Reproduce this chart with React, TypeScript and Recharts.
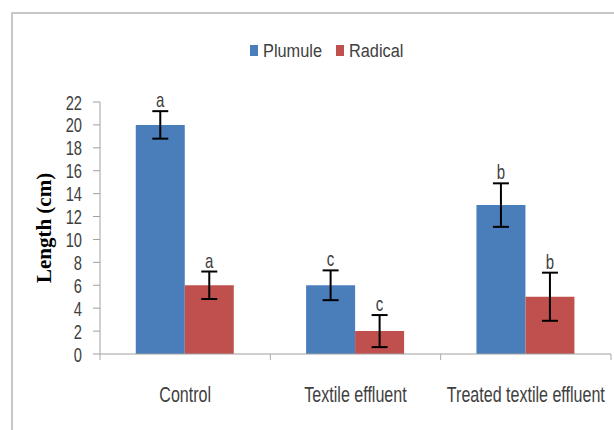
import React from 'react';
import { BarChart, Bar, XAxis, YAxis, Legend, ErrorBar, LabelList } from 'recharts';

const categories = ['Control', 'Textile effluent', 'Treated textile effluent'];
const plumule = [20, 6, 13];
const plumuleErr = [1.2, 1.3, 1.9];
const plumuleLetters = ['a', 'c', 'b'];
const radical = [6, 2, 5];
const radicalErr = [1.2, 1.4, 2.1];
const radicalLetters = ['a', 'c', 'b'];
const yTicks = [0, 2, 4, 6, 8, 10, 12, 14, 16, 18, 20, 22];

const data = categories.map((name, i) => ({
  name,
  plumule: plumule[i],
  plumuleErr: plumuleErr[i],
  plumuleLetter: plumuleLetters[i],
  radical: radical[i],
  radicalErr: radicalErr[i],
  radicalLetter: radicalLetters[i],
}));

const W = 614;
const H = 430;
const margin = { top: 78, right: 3, left: 0, bottom: 0 };
const yAxisWidth = 100;
const bandWidth = (W - margin.left - margin.right - yAxisWidth) / categories.length;
const sans = "'Liberation Sans', Arial, sans-serif";
const textColor = '#404040';

// the reference uses a narrow font, so squeeze Liberation Sans horizontally
const Narrow = ({ x, y, sx, size, anchor, children }: any) => (
  <text
    transform={`translate(${x},${y}) scale(${sx},1)`}
    textAnchor={anchor}
    fontSize={size}
    fill={textColor}
    fontFamily={sans}
  >
    {children}
  </text>
);

const letterLabel = (values: number[], errs: number[]) => (props: any) => {
  const { x, y, width, height, value, index } = props;
  const perUnit = height / values[index];
  const top = y - errs[index] * perUnit;
  return (
    <Narrow x={x + width / 2} y={top - 4} sx={0.75} size={20} anchor="middle">
      {value}
    </Narrow>
  );
};

const XTick = (props: any) => {
  const { x, y, payload, index } = props;
  return (
    <g>
      <line x1={x - bandWidth / 2} x2={x - bandWidth / 2} y1={y} y2={y + 6} stroke="#aaa" />
      {index === categories.length - 1 && (
        <line x1={x + bandWidth / 2} x2={x + bandWidth / 2} y1={y} y2={y + 6} stroke="#aaa" />
      )}
      <Narrow x={x} y={y + 48} sx={0.73} size={22} anchor="middle">
        {payload.value}
      </Narrow>
    </g>
  );
};

const YTick = (props: any) => {
  const { x, y, payload } = props;
  return (
    <Narrow x={x} y={y + 7.5} sx={0.7} size={21} anchor="end">
      {payload.value}
    </Narrow>
  );
};

const legendOffsets = [0, 86];

const LegendContent = (props: any) => {
  const { payload } = props;
  return (
    <svg width={160} height={24} style={{ display: 'block' }}>
      {payload.map((p: any, i: number) => (
        <g key={p.value} transform={`translate(${legendOffsets[i]},0)`}>
          <rect x={0} y={6} width={8} height={11} fill={p.color} />
          <Narrow x={13} y={18} sx={0.86} size={19} anchor="start">
            {p.value}
          </Narrow>
        </g>
      ))}
    </svg>
  );
};

export default function App() {
  return (
    <div style={{ position: 'absolute', left: 0, top: 0, width: W, height: H, overflow: 'hidden', background: '#fff' }}>
      <div
        style={{
          position: 'absolute',
          left: 11,
          top: 12,
          width: 700,
          height: 500,
          borderLeft: '2px solid #c8c8c8',
          borderTop: '2px solid #c8c8c8',
        }}
      />
      <BarChart width={W} height={H} data={data} margin={margin} barCategoryGap="21%" barGap={0}>
        <XAxis
          dataKey="name"
          stroke="#a0a0a0"
          tickLine={false}
          tickSize={0}
          tickMargin={0}
          tick={<XTick />}
          height={76}
          interval={0}
        />
        <YAxis
          domain={[0, 22]}
          ticks={yTicks}
          width={yAxisWidth}
          stroke="#a0a0a0"
          tickSize={7}
          tickMargin={11}
          tick={<YTick />}
          interval={0}
          label={{
            value: 'Length (cm)',
            angle: -90,
            position: 'insideLeft',
            offset: 44,
            style: { fontFamily: "'Liberation Serif', serif", fontWeight: 'bold', fontSize: 21, fill: '#000', textAnchor: 'middle' },
          }}
        />
        <Legend
          verticalAlign="top"
          content={<LegendContent />}
          wrapperStyle={{ top: 39, left: 250, width: 'auto' }}
        />
        <Bar dataKey="plumule" name="Plumule" fill="#4A7EBB" isAnimationActive={false}>
          <ErrorBar dataKey="plumuleErr" width={8} strokeWidth={2} stroke="#000" direction="y" />
          <LabelList dataKey="plumuleLetter" content={letterLabel(plumule, plumuleErr)} />
        </Bar>
        <Bar dataKey="radical" name="Radical" fill="#C0504D" isAnimationActive={false}>
          <ErrorBar dataKey="radicalErr" width={8} strokeWidth={2} stroke="#000" direction="y" />
          <LabelList dataKey="radicalLetter" content={letterLabel(radical, radicalErr)} />
        </Bar>
      </BarChart>
    </div>
  );
}
